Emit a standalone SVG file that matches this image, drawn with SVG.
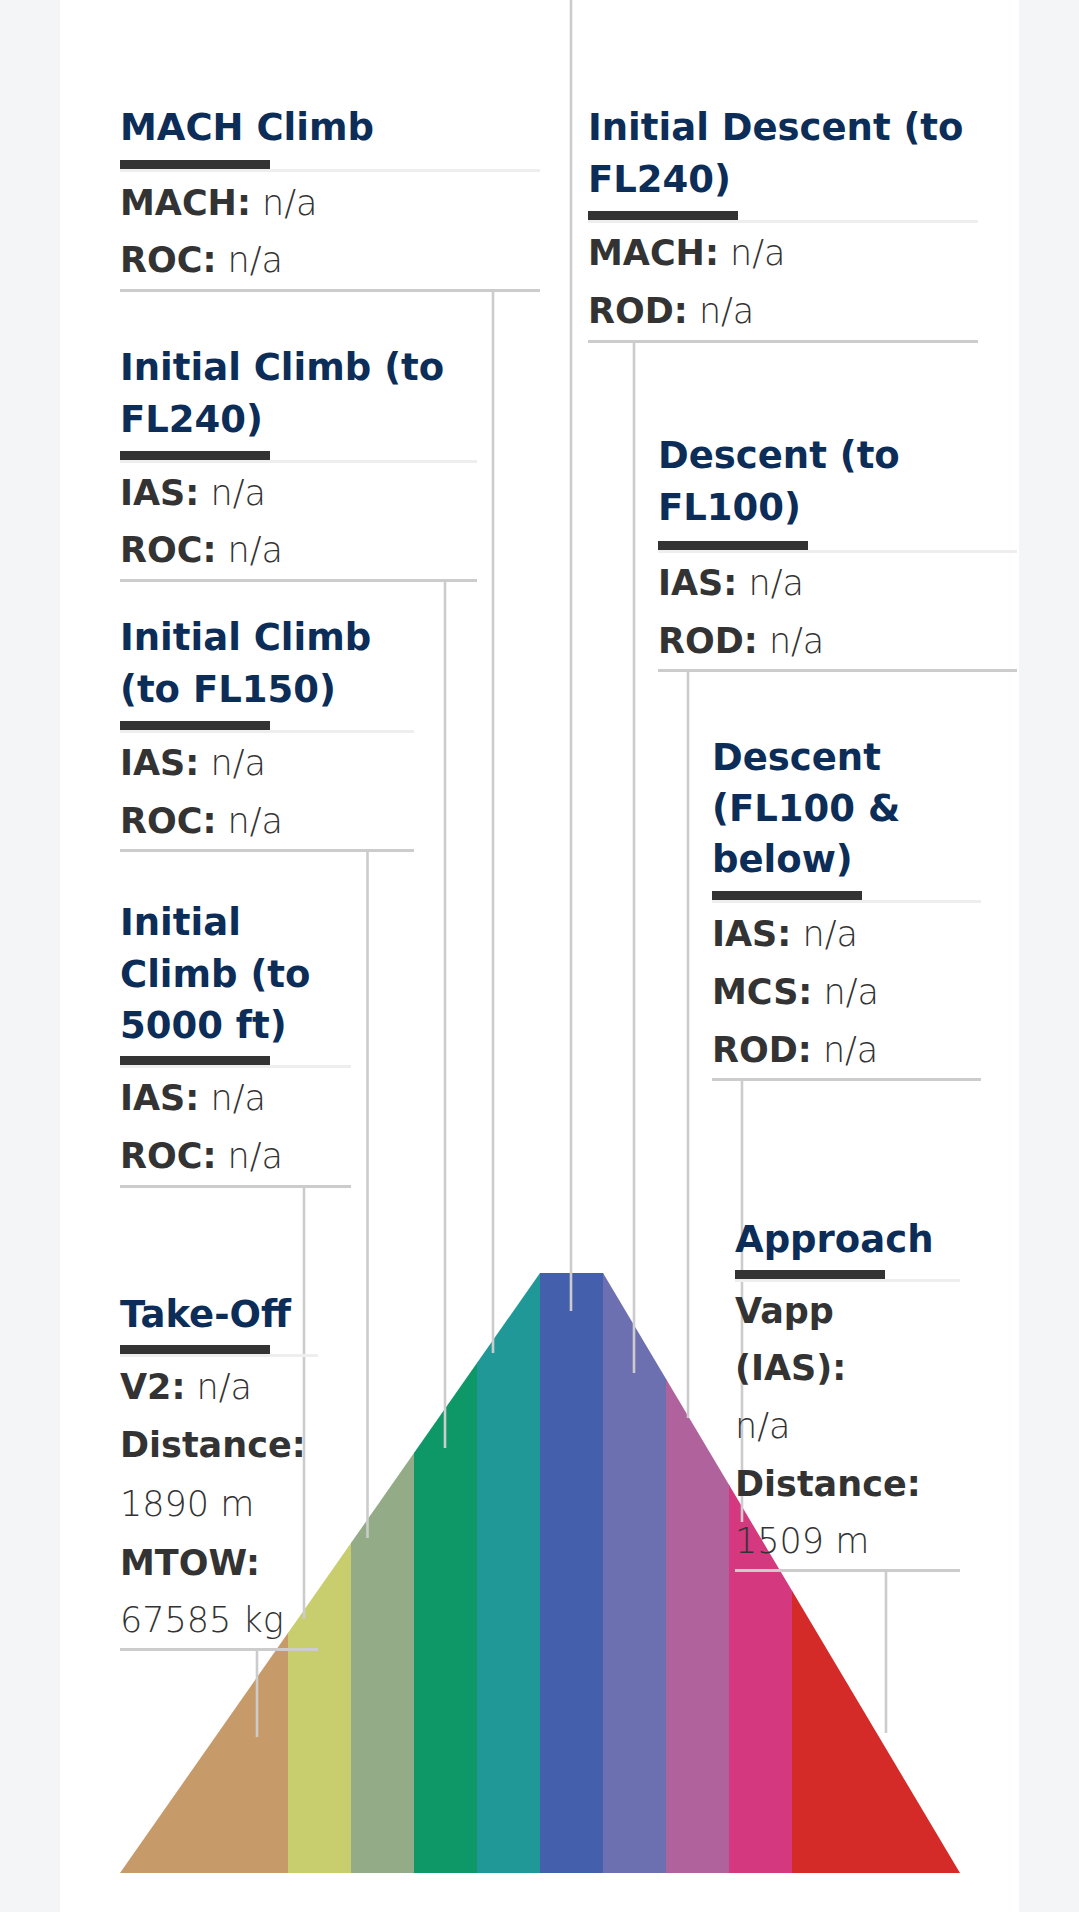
<svg xmlns="http://www.w3.org/2000/svg" width="1079" height="1912" viewBox="0 0 1079 1912">
<style>
.t{font-family:"DejaVu Sans","Liberation Sans",sans-serif;font-weight:700;font-size:37px;fill:#0c2d57}
.b{font-family:"DejaVu Sans","Liberation Sans",sans-serif;font-size:35px;fill:#333333}
.k{font-weight:700}
.v{font-weight:300}
.bar{fill:#333333}
.ul{fill:#eeeeee}
.bl{fill:#cccccc}
.c line{stroke:#cccccc;stroke-width:2.6}
</style>
<defs>
<clipPath id="trap"><polygon points="120,1873 540,1273 603,1273 960,1873"/></clipPath>
</defs>
<rect x="0" y="0" width="1079" height="1912" fill="#f4f5f7"/>
<rect x="60" y="0" width="959" height="1912" fill="#ffffff"/>
<g id="pyramid" clip-path="url(#trap)">
<rect x="120" y="1273" width="168.5" height="600" fill="#c69a69"/>
<rect x="288" y="1273" width="63.5" height="600" fill="#c8cd6d"/>
<rect x="351" y="1273" width="63.5" height="600" fill="#93ab86"/>
<rect x="414" y="1273" width="63.5" height="600" fill="#0e9868"/>
<rect x="477" y="1273" width="63.5" height="600" fill="#219898"/>
<rect x="540" y="1273" width="63.5" height="600" fill="#445fab"/>
<rect x="603" y="1273" width="63.5" height="600" fill="#6c70b1"/>
<rect x="666" y="1273" width="63.5" height="600" fill="#b0629c"/>
<rect x="729" y="1273" width="63.5" height="600" fill="#d4387e"/>
<rect x="792" y="1273" width="168" height="600" fill="#d42a28"/>
</g>
<g id="connectors" class="c">
<line x1="571" y1="0" x2="571" y2="1311"/>
<line x1="493" y1="292" x2="493" y2="1353"/>
<line x1="634" y1="343" x2="634" y2="1373"/>
<line x1="445" y1="582" x2="445" y2="1448"/>
<line x1="688" y1="672" x2="688" y2="1418"/>
<line x1="367.5" y1="852" x2="367.5" y2="1538"/>
<line x1="742" y1="1081" x2="742" y2="1522"/>
<line x1="304" y1="1188" x2="304" y2="1619"/>
<line x1="257" y1="1651" x2="257" y2="1737"/>
<line x1="886" y1="1572" x2="886" y2="1733"/>
</g>
<g id="mach-climb">
<text class="t" x="120" y="140">MACH Climb</text>
<rect class="ul" x="120" y="169" width="420" height="3"/>
<rect class="bar" x="120" y="160" width="150" height="9"/>
<text class="b" x="120" y="215"><tspan class="k">MACH:</tspan><tspan class="v"> n/a</tspan></text>
<text class="b" x="120" y="272"><tspan class="k">ROC:</tspan><tspan class="v"> n/a</tspan></text>
<rect class="bl" x="120" y="289" width="420" height="3"/>
</g>
<g id="initial-descent">
<text class="t" x="588" y="140">Initial Descent (to</text>
<text class="t" x="588" y="192">FL240)</text>
<rect class="ul" x="588" y="220" width="390" height="3"/>
<rect class="bar" x="588" y="211" width="150" height="9"/>
<text class="b" x="588" y="265"><tspan class="k">MACH:</tspan><tspan class="v"> n/a</tspan></text>
<text class="b" x="588" y="323"><tspan class="k">ROD:</tspan><tspan class="v"> n/a</tspan></text>
<rect class="bl" x="588" y="340" width="390" height="3"/>
</g>
<g id="initial-climb-fl240">
<text class="t" x="120" y="380">Initial Climb (to</text>
<text class="t" x="120" y="432">FL240)</text>
<rect class="ul" x="120" y="460" width="357" height="3"/>
<rect class="bar" x="120" y="451" width="150" height="9"/>
<text class="b" x="120" y="505"><tspan class="k">IAS:</tspan><tspan class="v"> n/a</tspan></text>
<text class="b" x="120" y="562"><tspan class="k">ROC:</tspan><tspan class="v"> n/a</tspan></text>
<rect class="bl" x="120" y="579" width="357" height="3"/>
</g>
<g id="descent-fl100">
<text class="t" x="658" y="468">Descent (to</text>
<text class="t" x="658" y="520">FL100)</text>
<rect class="ul" x="658" y="550" width="359" height="3"/>
<rect class="bar" x="658" y="541" width="150" height="9"/>
<text class="b" x="658" y="595"><tspan class="k">IAS:</tspan><tspan class="v"> n/a</tspan></text>
<text class="b" x="658" y="653"><tspan class="k">ROD:</tspan><tspan class="v"> n/a</tspan></text>
<rect class="bl" x="658" y="669" width="359" height="3"/>
</g>
<g id="initial-climb-fl150">
<text class="t" x="120" y="650">Initial Climb</text>
<text class="t" x="120" y="702">(to FL150)</text>
<rect class="ul" x="120" y="730" width="294" height="3"/>
<rect class="bar" x="120" y="721" width="150" height="9"/>
<text class="b" x="120" y="775"><tspan class="k">IAS:</tspan><tspan class="v"> n/a</tspan></text>
<text class="b" x="120" y="833"><tspan class="k">ROC:</tspan><tspan class="v"> n/a</tspan></text>
<rect class="bl" x="120" y="849" width="294" height="3"/>
</g>
<g id="descent-fl100-below">
<text class="t" x="712" y="770">Descent</text>
<text class="t" x="712" y="821">(FL100 &amp;</text>
<text class="t" x="712" y="872">below)</text>
<rect class="ul" x="712" y="900" width="269" height="3"/>
<rect class="bar" x="712" y="891" width="150" height="9"/>
<text class="b" x="712" y="946"><tspan class="k">IAS:</tspan><tspan class="v"> n/a</tspan></text>
<text class="b" x="712" y="1004"><tspan class="k">MCS:</tspan><tspan class="v"> n/a</tspan></text>
<text class="b" x="712" y="1062"><tspan class="k">ROD:</tspan><tspan class="v"> n/a</tspan></text>
<rect class="bl" x="712" y="1078" width="269" height="3"/>
</g>
<g id="initial-climb-5000">
<text class="t" x="120" y="935">Initial</text>
<text class="t" x="120" y="987">Climb (to</text>
<text class="t" x="120" y="1038">5000 ft)</text>
<rect class="ul" x="120" y="1065" width="231" height="3"/>
<rect class="bar" x="120" y="1056" width="150" height="9"/>
<text class="b" x="120" y="1110"><tspan class="k">IAS:</tspan><tspan class="v"> n/a</tspan></text>
<text class="b" x="120" y="1168"><tspan class="k">ROC:</tspan><tspan class="v"> n/a</tspan></text>
<rect class="bl" x="120" y="1185" width="231" height="3"/>
</g>
<g id="take-off">
<text class="t" x="120" y="1327">Take-Off</text>
<rect class="ul" x="120" y="1354" width="198" height="3"/>
<rect class="bar" x="120" y="1345" width="150" height="9"/>
<text class="b" x="120" y="1399"><tspan class="k">V2:</tspan><tspan class="v"> n/a</tspan></text>
<text class="b k" x="120" y="1457">Distance:</text>
<text class="b v" x="120" y="1516">1890 m</text>
<text class="b k" x="120" y="1575">MTOW:</text>
<text class="b v" x="120" y="1632">67585 kg</text>
<rect class="bl" x="120" y="1648" width="198" height="3"/>
</g>
<g id="approach">
<text class="t" x="735" y="1252">Approach</text>
<rect class="ul" x="735" y="1279" width="225" height="3"/>
<rect class="bar" x="735" y="1270" width="150" height="9"/>
<text class="b k" x="735" y="1323">Vapp</text>
<text class="b k" x="735" y="1380">(IAS):</text>
<text class="b v" x="735" y="1438">n/a</text>
<text class="b k" x="735" y="1496">Distance:</text>
<text class="b v" x="735" y="1553">1509 m</text>
<rect class="bl" x="735" y="1569" width="225" height="3"/>
</g>
</svg>
